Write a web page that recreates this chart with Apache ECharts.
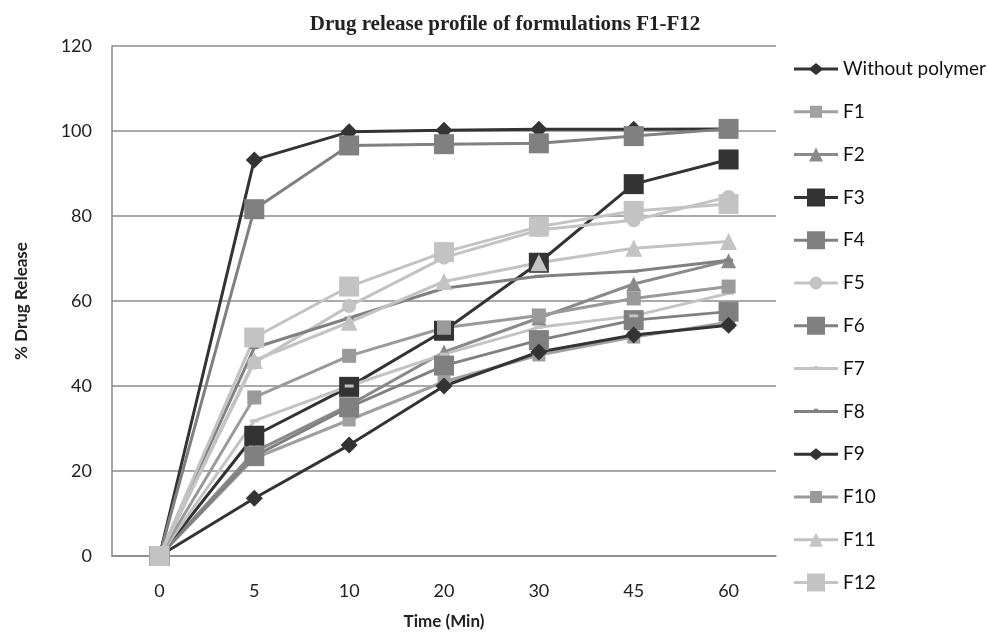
<!DOCTYPE html>
<html>
<head>
<meta charset="utf-8">
<script src="https://cdn.jsdelivr.net/npm/echarts@6/dist/echarts.min.js"></script>
<style>html,body{margin:0;padding:0;background:#fff}#c{width:990px;height:635px}</style>
</head>
<body>
<div id="c"></div>
<script>
const categories = ['0', '5', '10', '20', '30', '45', '60'];
const yTicks = [0, 20, 40, 60, 80, 100, 120];
const seriesNames = ['Without polymer','F1','F2','F3','F4','F5','F6','F7','F8','F9','F10','F11','F12'];
const withoutPolymer = [0, 93.2, 99.8, 100.2, 100.4, 100.4, 100.5];
const f1  = [0, 23.0, 32.0, 41.0, 47.3, 51.5, 55.0];
const f2  = [0, 24.5, 35.5, 48.0, 56.0, 64.0, 69.5];
const f3  = [0, 28.3, 39.8, 53.0, 69.0, 87.5, 93.3];
const f4  = [0, 81.6, 96.6, 96.9, 97.1, 98.8, 100.5];
const f5  = [0, 45.5, 58.8, 70.2, 76.7, 79.0, 84.5];
const f6  = [0, 23.5, 35.0, 44.8, 50.8, 55.5, 57.5];
const f7  = [0, 31.8, 40.0, 47.5, 53.8, 56.5, 61.8];
const f8  = [0, 49.0, 56.0, 63.0, 65.8, 67.0, 69.6];
const f9  = [0, 13.6, 26.1, 40.0, 48.0, 52.0, 54.3];
const f10 = [0, 37.3, 47.1, 53.7, 56.6, 60.6, 63.4];
const f11 = [0, 46.0, 55.0, 64.6, 69.0, 72.4, 74.0];
const f12 = [0, 51.4, 63.4, 71.5, 77.5, 81.2, 82.8];
const allData = [withoutPolymer, f1, f2, f3, f4, f5, f6, f7, f8, f9, f10, f11, f12];

// marker styles (colour, plot symbol, plot size, legend glyph kind, legend glyph size)
const styles = [
  {c:'#333333', s:'diamond',  z:17,    k:'diamond',  g:15},
  {c:'#a0a0a0', s:'rect',     z:13,    k:'rect',     g:12},
  {c:'#8a8a8a', s:'triangle', z:15,    k:'triangle', g:14},
  {c:'#333333', s:'rect',     z:20,    k:'rect',     g:18},
  {c:'#808080', s:'rect',     z:20,    k:'rect',     g:18},
  {c:'#c3c3c3', s:'circle',   z:14,    k:'circle',   g:13},
  {c:'#808080', s:'rect',     z:20,    k:'rect',     g:18},
  {c:'#c3c3c3', s:'rect',     z:[9,3], k:'dash',     g:8},
  {c:'#808080', s:'rect',     z:[9,3], k:'dash',     g:8},
  {c:'#333333', s:'diamond',  z:17,    k:'diamond',  g:15},
  {c:'#9a9a9a', s:'rect',     z:14,    k:'rect',     g:12},
  {c:'#c3c3c3', s:'triangle', z:17,    k:'triangle', g:14},
  {c:'#c3c3c3', s:'rect',     z:20,    k:'rect',     g:18}
];

function legendIcon(k, g) {
  const cx = 22, cy = 10, h = g / 2;
  let p = 'M22,0h0.01v0.01h-0.01z M22,19.99h0.01v0.01h-0.01z M0,8.5h44v3h-44z ';
  if (k === 'rect') p += `M${cx-h},${cy-h}h${g}v${g}h${-g}z`;
  else if (k === 'diamond') p += `M${cx},${cy-h*0.8}L${cx+h},${cy}L${cx},${cy+h*0.8}L${cx-h},${cy}Z`;
  else if (k === 'triangle') p += `M${cx},${cy-h}L${cx+h},${cy+h}L${cx-h},${cy+h}Z`;
  else if (k === 'circle') p += `M${cx-h},${cy}A${h},${h},0,1,1,${cx+h},${cy}A${h},${h},0,1,1,${cx-h},${cy}Z`;
  else if (k === 'dash') p += `M${cx-h/2},7.3h${h}v2h${-h}z`;
  return 'path://' + p;
}

const series = seriesNames.map((n, i) => ({
  name: n,
  type: 'line',
  data: allData[i],
  symbol: styles[i].s,
  symbolSize: styles[i].z,
  showAllSymbol: true,
  lineStyle: {color: styles[i].c, width: 3},
  itemStyle: {color: styles[i].c, borderWidth: 0},
  emphasis: {disabled: true},
  animation: false
}));

const chart = echarts.init(document.getElementById('c'));
chart.setOption({
  backgroundColor: '#ffffff',
  title: {
    text: 'Drug release profile of formulations F1-F12',
    left: 500, top: 9, textAlign: 'center',
    textStyle: {fontFamily: 'Liberation Serif', fontWeight: 'bold', fontSize: 21, color: '#222'}
  },
  legend: {
    orient: 'vertical', left: 794, top: 59, padding: 0,
    itemWidth: 44, itemHeight: 20, itemGap: 22.8,
    textStyle: {fontFamily: 'Lato', fontSize: 19, color: '#111'},
    data: seriesNames.map((n, i) => ({name: n, icon: legendIcon(styles[i].k, styles[i].g)}))
  },
  grid: {left: 112, right: 214, top: 46, bottom: 79, outerBoundsMode: 'none', containLabel: false},
  xAxis: {
    type: 'category', data: categories, boundaryGap: true,
    name: 'Time (Min)', nameLocation: 'middle', nameGap: 57,
    nameTextStyle: {fontFamily: 'Lato', fontWeight: 'bold', fontSize: 17, color: '#222'},
    axisLine: {lineStyle: {color: '#888', width: 1.5}},
    axisTick: {show: false},
    axisLabel: {fontFamily: 'Lato', fontSize: 18, color: '#222', margin: 26}
  },
  yAxis: {
    type: 'value', min: yTicks[0], max: yTicks[yTicks.length-1], interval: 20,
    name: '% Drug Release', nameLocation: 'middle', nameGap: 82, nameRotate: 90,
    nameTextStyle: {fontFamily: 'Lato', fontWeight: 'bold', fontSize: 17, color: '#222'},
    axisLine: {show: true, lineStyle: {color: '#888', width: 1.5}},
    axisTick: {show: false},
    splitLine: {lineStyle: {color: '#8c8c8c', width: 1.5}},
    axisLabel: {fontFamily: 'Lato', fontSize: 18, color: '#222', margin: 20}
  },
  series: series
});
</script>
</body>
</html>
